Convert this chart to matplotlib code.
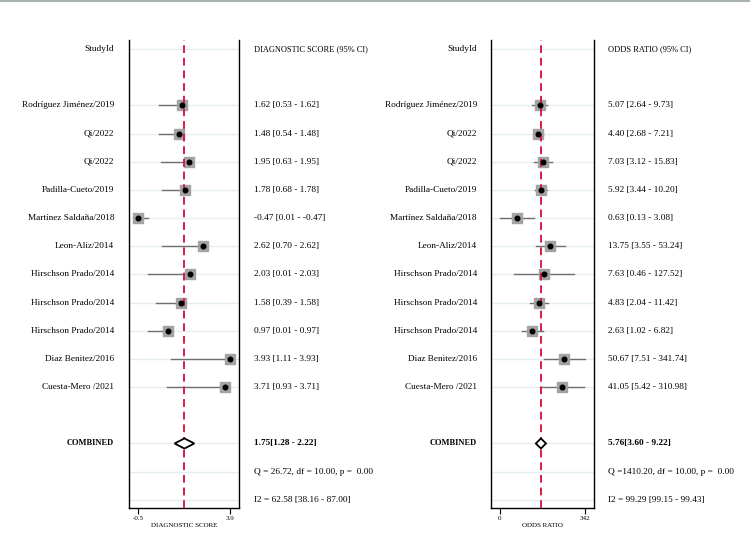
import numpy as np
import matplotlib
matplotlib.use("Agg")
import matplotlib.pyplot as plt
from matplotlib.transforms import blended_transform_factory
from matplotlib.lines import Line2D

# study data
studies = ["Rodríguez Jiménez/2019", "Qi/2022", "Qi/2022", "Padilla-Cueto/2019",
           "Martínez Saldaña/2018", "Leon-Aliz/2014", "Hirschson Prado/2014",
           "Hirschson Prado/2014", "Hirschson Prado/2014", "Diaz Benitez/2016",
           "Cuesta-Mero /2021"]
ds = [1.62, 1.48, 1.95, 1.78, -0.47, 2.62, 2.03, 1.58, 0.97, 3.93, 3.71]
ds_lo = [0.53, 0.54, 0.63, 0.68, 0.01, 0.70, 0.01, 0.39, 0.01, 1.11, 0.93]
ds_hi = [1.62, 1.48, 1.95, 1.78, -0.47, 2.62, 2.03, 1.58, 0.97, 3.93, 3.71]
odds = [5.07, 4.40, 7.03, 5.92, 0.63, 13.75, 7.63, 4.83, 2.63, 50.67, 41.05]
odds_lo = [2.64, 2.68, 3.12, 3.44, 0.13, 3.55, 0.46, 2.04, 1.02, 7.51, 5.42]
odds_hi = [9.73, 7.21, 15.83, 10.20, 3.08, 53.24, 127.52, 11.42, 6.82, 341.74, 310.98]

ds_comb = (1.75, 1.28, 2.22)
odds_comb = (5.76, 3.60, 9.22)
ds_q = "Q = 26.72, df = 10.00, p =  0.00"
ds_i2 = "I2 = 62.58 [38.16 - 87.00]"
odds_q = "Q =1410.20, df = 10.00, p =  0.00"
odds_i2 = "I2 = 99.29 [99.15 - 99.43]"

plt.rcParams['font.family'] = ['Liberation Serif', 'DejaVu Serif']
FS = 6.7
CAPS = 6.0
W, H = 750, 547
fig = plt.figure(figsize=(W / 100, H / 100), dpi=100)
fig.add_artist(Line2D([0, 1], [0.998, 0.998], color='#a9b1ad', lw=1.5))

study_rows = np.arange(2, 2 + len(studies))
comb_row, q_row, i2_row = 14, 15, 16
grid_rows = [0] + list(study_rows) + [comb_row, q_row, i2_row]


def panel(px0, px1, est, lo, hi, comb, qtxt, i2txt, header, xlabel,
          name_x, val_x, logx, xlim, ticks, ticklabels):
    ax = fig.add_axes([px0 / W, 1 - 508 / H, (px1 - px0) / W, 468 / H])
    if logx:
        ax.set_xscale('log')
    ax.set_xlim(*xlim)
    ax.set_ylim(16.29, -0.32)
    for r in grid_rows:
        ax.axhline(r, color='#e4edf0', lw=1, zorder=0)
    # confidence intervals and markers
    for r, e, l, h in zip(study_rows, est, lo, hi):
        ax.plot([l, h], [r, r], color='#6e6e6e', lw=1, zorder=2)
    ax.scatter(est, study_rows, marker='s', s=55, color='#a3a3a3', zorder=3)
    ax.scatter(est, study_rows, marker='o', s=11, color='black', zorder=4)
    # combined diamond
    c, cl, ch = comb
    dh = 0.18
    ax.fill([cl, c, ch, c, cl], [comb_row, comb_row - dh, comb_row, comb_row + dh, comb_row],
            facecolor='white', edgecolor='black', lw=1.3, zorder=4)
    ax.axvline(c, color='#d81b4a', lw=1.4, ls=(0, (4, 2.5)), zorder=3)
    for s in ['left', 'right', 'bottom']:
        ax.spines[s].set_linewidth(1.0)
    ax.spines['top'].set_visible(False)
    ax.set_yticks([])
    ax.set_xticks(ticks)
    ax.set_xticklabels(ticklabels, fontsize=5)
    ax.xaxis.set_minor_locator(matplotlib.ticker.NullLocator())
    ax.tick_params(axis='x', length=4, width=0.8, pad=2)
    ax.set_xlabel(xlabel, fontsize=5, labelpad=1)

    tn = blended_transform_factory(fig.transFigure, ax.transData)
    ax.text(name_x / W, 0, "StudyId", transform=tn, ha='right', va='center', fontsize=FS)
    ax.text(val_x / W, 0, header, transform=tn, ha='left', va='center', fontsize=CAPS)
    for r, name, e, l, h in zip(study_rows, studies, est, lo, hi):
        ax.text(name_x / W, r, name, transform=tn, ha='right', va='center', fontsize=FS)
        ax.text(val_x / W, r, f"{e:.2f} [{l:.2f} - {h:.2f}]", transform=tn,
                ha='left', va='center', fontsize=FS)
    ax.text(name_x / W, comb_row, "COMBINED", transform=tn, ha='right', va='center',
            fontsize=CAPS, fontweight='bold')
    ax.text(val_x / W, comb_row, f"{c:.2f}[{cl:.2f} - {ch:.2f}]", transform=tn,
            ha='left', va='center', fontsize=FS, fontweight='bold')
    ax.text(val_x / W, q_row, qtxt, transform=tn, ha='left', va='center', fontsize=FS)
    ax.text(val_x / W, i2_row, i2txt, transform=tn, ha='left', va='center', fontsize=FS)
    return ax


panel(129, 239, ds, ds_lo, ds_hi, ds_comb, ds_q, ds_i2,
      "DIAGNOSTIC SCORE (95% CI)", "DIAGNOSTIC SCORE", 114, 254, False,
      (-0.90, 4.36), [min(ds_lo + ds), max(ds_hi)],
      [f"{min(ds_lo + ds):.1f}", f"{max(ds_hi):.1f}"])

panel(491, 594, odds, odds_lo, odds_hi, odds_comb, odds_q, odds_i2,
      "ODDS RATIO (95% CI)", "ODDS RATIO", 477, 608, True,
      (0.0567, 786), [min(odds_lo), max(odds_hi)],
      [f"{min(odds_lo):.0f}", f"{max(odds_hi):.0f}"])

fig.savefig("out.png", dpi=100)
